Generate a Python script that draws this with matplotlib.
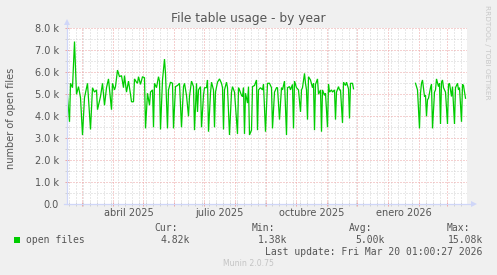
import datetime as dt
import matplotlib
matplotlib.use("Agg")
import matplotlib.pyplot as plt
import matplotlib.dates as mdates
from matplotlib.patches import Rectangle
from matplotlib.ticker import MultipleLocator, FuncFormatter, NullFormatter

# ---------------- data (values in thousands of open files) ----------------
start_date = dt.datetime(2025, 2, 13, 1, 0)
end_date = dt.datetime(2026, 3, 20, 1, 0)

# segment 1: days since start_date and values
days_a = [0, 3, 4, 6, 8, 10, 12, 14, 16, 18, 21, 24, 26, 28, 30, 31, 34, 36, 38, 40,
          42, 45, 46, 48, 49, 51, 53, 55, 57, 58, 60, 62, 64, 65, 67, 68, 70, 71, 72, 74,
          76, 78, 79, 81, 83, 84, 86, 87, 88, 90, 92, 93, 94, 96, 97, 98, 99, 101, 102, 104,
          106, 107, 109, 111, 113, 115, 117, 118, 120, 122, 123, 125, 127, 128, 130, 131, 132, 134, 135, 137,
          138, 140, 141, 142, 144, 145, 147, 148, 149, 151, 153, 155, 156, 157, 158, 160, 161, 163, 165, 166,
          168, 171, 172, 173, 175, 176, 177, 178, 179, 181, 182, 183, 185, 186, 188, 190, 191, 192, 194, 196,
          197, 199, 201, 203, 205, 206, 208, 210, 211, 213, 215, 216, 218, 220, 221, 223, 224, 226, 227, 228,
          230, 232, 234, 235, 236, 238, 239, 240, 241, 242, 244, 246, 247, 248, 249, 251, 252, 254, 255, 256,
          258, 259, 261, 262, 263, 265, 266, 268, 269, 270, 272, 273, 274, 276, 277, 279, 280, 282, 283, 284,
          286, 287]
values_a = [5.5, 3.75, 5.5, 5.3, 7.4, 5.0, 5.35, 4.85, 3.15, 4.85, 5.5, 3.4, 5.3, 5.1, 5.2, 4.3, 4.9, 5.5, 4.5, 5.3,
            5.7, 4.3, 5.5, 5.2, 5.35, 6.1, 5.8, 5.85, 5.3, 5.85, 5.1, 5.6, 5.0, 4.66, 4.66, 5.7, 5.55, 5.5, 5.8, 5.45,
            5.8, 5.75, 3.45, 5.05, 4.5, 5.1, 5.2, 3.5, 5.5, 5.3, 5.8, 5.6, 3.4, 5.65, 6.1, 6.6, 5.95, 3.45, 5.2, 5.55,
            5.5, 3.45, 5.35, 5.4, 5.5, 3.5, 5.35, 5.5, 4.95, 4.0, 4.9, 5.6, 5.35, 3.37, 5.5, 4.2, 5.2, 5.35, 3.5, 4.95,
            5.3, 5.3, 5.65, 3.3, 5.05, 5.55, 5.2, 3.5, 5.1, 5.55, 5.7, 5.5, 5.3, 3.4, 5.2, 5.55, 5.3, 3.15, 5.1, 5.35,
            5.1, 3.2, 5.3, 5.2, 4.95, 4.9, 5.3, 3.2, 5.05, 4.6, 5.35, 3.15, 3.37, 5.35, 5.4, 5.65, 3.37, 5.2, 5.3, 5.2,
            5.45, 3.3, 5.5, 5.5, 5.3, 3.45, 5.1, 5.3, 5.3, 3.85, 5.3, 5.2, 5.6, 3.15, 5.3, 5.35, 5.2, 5.45, 3.45, 5.6,
            5.3, 5.2, 4.2, 5.2, 5.3, 5.95, 5.5, 5.2, 3.85, 5.8, 5.65, 5.3, 5.5, 3.37, 5.45, 5.7, 5.0, 5.2, 3.3, 5.2,
            4.95, 5.05, 3.5, 5.45, 5.1, 5.2, 5.1, 5.2, 3.85, 5.1, 5.35, 5.2, 5.2, 3.7, 5.55, 5.4, 5.55, 5.25, 3.9, 5.5,
            5.5, 5.25]

# segment 2 (after the data gap)
days_b = [349, 351, 353, 354, 355, 356, 358, 359, 360, 361, 362, 364, 365, 366, 368, 369, 370, 372, 373, 374,
          375, 376, 377, 379, 381, 382, 383, 385, 386, 388, 389, 391, 392, 393, 395, 396, 397, 399]
values_b = [5.5, 5.2, 3.45, 5.05, 5.5, 5.65, 4.9, 4.95, 4.0, 4.75, 4.82, 5.3, 5.45, 3.45, 5.1, 5.2, 5.7, 5.35, 5.5, 3.65,
            5.55, 5.65, 5.3, 5.1, 3.65, 5.45, 5.5, 4.9, 5.35, 3.65, 5.3, 5.5, 5.2, 5.3, 3.75, 5.45, 5.4, 4.82]

month_labels = ["abril 2025", "julio 2025", "octubre 2025", "enero 2026"]
month_label_starts = [dt.datetime(2025, 4, 1), dt.datetime(2025, 7, 1),
                      dt.datetime(2025, 10, 1), dt.datetime(2026, 1, 1)]

series_name = "open files"
stat_names = ["Cur:", "Min:", "Avg:", "Max:"]
stat_values = ["4.82k", "1.38k", "5.00k", "15.08k"]
title = "File table usage - by year"
ylabel = "number of open files"
last_update = "Last update: Fri Mar 20 01:00:27 2026"
footer = "Munin 2.0.75"
side_text = "RRDTOOL / TOBI OETIKER"

# ---------------- styling ----------------
W, H = 497, 275
BG = "#F0F0F0"
FONT_C = "#555555"
AXIS_C = "#CFD6F8"
MAJ_C = "#EDA3A3"
MIN_C = "#D2D2D2"
LINE_C = "#00CC00"

fig = plt.figure(figsize=(W / 100, H / 100), dpi=100, facecolor=BG)
ax_left, ax_top, ax_w, ax_h = 66.5, 28.3, 400.0, 176.0
ax = fig.add_axes([ax_left / W, (H - ax_top - ax_h) / H, ax_w / W, ax_h / H], facecolor="white")


def fx(px):
    return px / W


def fy(py):
    return 1 - py / H


dates_a = [start_date + dt.timedelta(days=d) for d in days_a]
dates_b = [start_date + dt.timedelta(days=d) for d in days_b]
ax.plot(dates_a, values_a, color=LINE_C, lw=0.9, zorder=3, solid_joinstyle="miter")
ax.plot(dates_b, values_b, color=LINE_C, lw=0.9, zorder=3, solid_joinstyle="miter")

ax.set_xlim(start_date, end_date)
ax.set_ylim(0, 8)

ax.xaxis.set_major_locator(mdates.MonthLocator())
ax.xaxis.set_minor_locator(mdates.WeekdayLocator(byweekday=mdates.SU))
ax.xaxis.set_major_formatter(NullFormatter())
ax.yaxis.set_major_locator(MultipleLocator(1))
ax.yaxis.set_minor_locator(MultipleLocator(0.5))
ax.yaxis.set_major_formatter(FuncFormatter(lambda v, p: "0.0" if v == 0 else f"{v:.1f} k"))

ax.set_axisbelow(True)
ax.grid(which="major", color=MAJ_C, linestyle=(0, (1, 2)), lw=0.72, zorder=1)
ax.grid(which="minor", color=MIN_C, linestyle=(0, (1, 2)), lw=0.72, zorder=0)

ax.tick_params(axis="both", which="major", direction="inout", length=3, width=0.72, color=MAJ_C)
ax.tick_params(axis="both", which="minor", direction="inout", length=3, width=0.72, color=MIN_C)
ax.tick_params(axis="y", which="major", pad=4, labelsize=7, labelcolor=FONT_C)

for s in ["top", "right", "left", "bottom"]:
    ax.spines[s].set_visible(False)

# axis lines with arrows (rrdtool style)
ax.plot([-0.006, 1.017], [0, 0], color=AXIS_C, lw=0.9, transform=ax.transAxes, clip_on=False, zorder=4)
ax.plot([0, 0], [0, 1.03], color=AXIS_C, lw=0.9, transform=ax.transAxes, clip_on=False, zorder=4)
ax.plot([1.019], [0], marker=">", ms=4, color=AXIS_C, transform=ax.transAxes, clip_on=False, zorder=4, mew=0)
ax.plot([0], [1.034], marker="^", ms=4, color=AXIS_C, transform=ax.transAxes, clip_on=False, zorder=4, mew=0)

# month labels (centered mid-month)
xlab_tr = matplotlib.transforms.blended_transform_factory(ax.transData, ax.transAxes)
for lab, ms in zip(month_labels, month_label_starts):
    ax.text(ms + dt.timedelta(days=15), (ax_top + ax_h - 212.7) / ax_h, lab,
            transform=xlab_tr, ha="center", va="center", fontsize=7, color=FONT_C)

# title, y label, side text
fig.text(fx(248), fy(18.5), title, ha="center", va="center", fontsize=8.8, color=FONT_C)
fig.text(fx(11), fy(118), ylabel, ha="center", va="center", rotation=90, fontsize=7, color=FONT_C)
fig.text(fx(487.5), fy(52), side_text, ha="center", va="center", rotation=270, fontsize=5.3, color="#C8C8C8")

# legend row
mono = "DejaVu Sans Mono"
fig.add_artist(Rectangle((fx(14), fy(242.7)), 6 / W, 6 / H, transform=fig.transFigure,
                         facecolor=LINE_C, edgecolor="none"))
fig.text(fx(26), fy(240), series_name, ha="left", va="center", fontsize=7, family=mono, color=FONT_C)
stat_name_x = [154, 251.7, 349, 446.7]
stat_val_right = [190, 287.3, 385, 482.7]
for nm, nx in zip(stat_names, stat_name_x):
    fig.text(fx(nx), fy(228.3), nm, ha="left", va="center", fontsize=7, family=mono, color=FONT_C)
for vv, vx in zip(stat_values, stat_val_right):
    fig.text(fx(vx), fy(240), vv, ha="right", va="center", fontsize=7, family=mono, color=FONT_C)
fig.text(fx(482.7), fy(251.7), last_update, ha="right", va="center", fontsize=7, family=mono, color=FONT_C)
fig.text(fx(248), fy(263.3), footer, ha="center", va="center", fontsize=5.6, color="#C4C4C4")

fig.savefig("out.png", dpi=100, facecolor=BG)
